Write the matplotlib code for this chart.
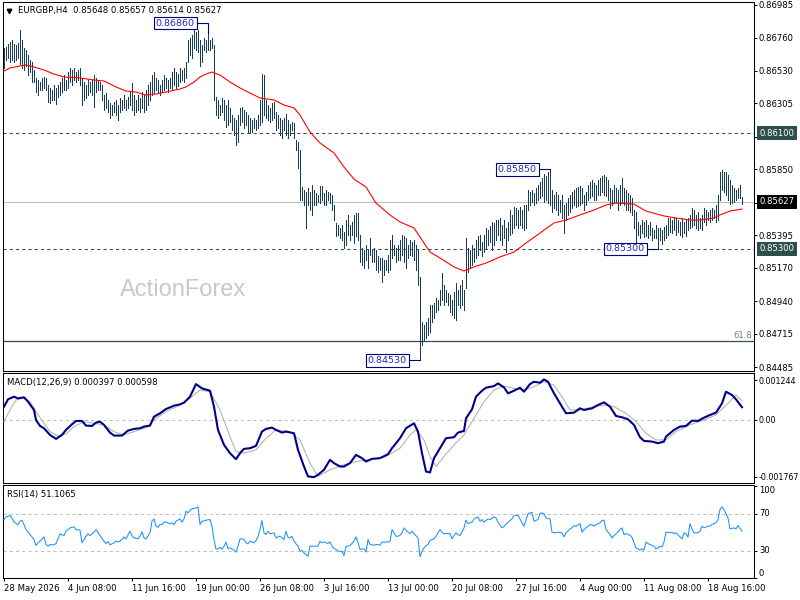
import numpy as np
import matplotlib
matplotlib.use("Agg")
import matplotlib.pyplot as plt
from matplotlib import transforms

plt.rcParams['font.family'] = ['DejaVu Sans']
plt.rcParams['axes.linewidth'] = 0.75

# ---------------- data ----------------
title_text = "EURGBP,H4  0.85648 0.85657 0.85614 0.85627"
macd_title = "MACD(12,26,9) 0.000397 0.000598"
rsi_title = "RSI(14) 51.1065"

# H4 bar highs / lows in price points (1e-5)
bar_high = [
    86688, 86695, 86716, 86729, 86743, 86716, 86709, 86723, 86812, 86743,
    86688, 86674, 86640, 86605, 86591, 86536, 86481, 86467, 86453, 86481,
    86488, 86481, 86433, 86412, 86398, 86433, 86412, 86433, 86453, 86481,
    86501, 86467, 86522, 86550, 86536, 86550, 86522, 86536, 86550, 86481,
    86453, 86433, 86467, 86453, 86467, 86501, 86481, 86467, 86453, 86433,
    86363, 86377, 86329, 86308, 86294, 86315, 86329, 86294, 86343, 86329,
    86363, 86329, 86350, 86384, 86446, 86363, 86329, 86363, 86343, 86384,
    86363, 86398, 86433, 86453, 86501, 86522, 86481, 86467, 86433, 86467,
    86501, 86481, 86467, 86481, 86522, 86550, 86522, 86508, 86550, 86536,
    86550, 86591, 86743, 86757, 86778, 86812, 86799, 86812, 86743, 86709,
    86757, 86743, 86792, 86743, 86757, 86709, 86350, 86329, 86294, 86343,
    86329, 86294, 86329, 86274, 86225, 86205, 86191, 86225, 86274, 86280,
    86260, 86246, 86225, 86205, 86191, 86205, 86191, 86225, 86329, 86508,
    86501, 86329, 86294, 86274, 86308, 86315, 86246, 86225, 86205, 86191,
    86205, 86232, 86191, 86163, 86177, 86170, 86053, 86039, 85984, 85728,
    85707, 85694, 85721, 85694, 85742, 85707, 85687, 85673, 85735, 85735,
    85687, 85707, 85694, 85687, 85673, 85604, 85480, 85466, 85445, 85466,
    85417, 85500, 85535, 85466, 85487, 85535, 85549, 85549, 85397, 85307,
    85293, 85328, 85293, 85376, 85293, 85307, 85293, 85252, 85238, 85238,
    85224, 85224, 85259, 85362, 85397, 85328, 85307, 85328, 85362, 85397,
    85390, 85376, 85328, 85362, 85348, 85362, 85328, 85293, 85107, 84796,
    84775, 84796, 84823, 84913, 84913, 84927, 84962, 84948, 85017, 85134,
    85052, 85017, 84996, 84982, 84948, 85003, 85065, 85017, 85052, 85086,
    85017, 85376, 85307, 85293, 85328, 85307, 85362, 85390, 85397, 85348,
    85397, 85445, 85431, 85459, 85487, 85480, 85500, 85500, 85514, 85466,
    85500, 85445, 85487, 85569, 85535, 85590, 85583, 85569, 85590, 85569,
    85604, 85604, 85707, 85694, 85707, 85687, 85721, 85742, 85763, 85790,
    85818, 85804, 85832, 85850, 85707, 85673, 85694, 85673, 85638, 85673,
    85604, 85617, 85652, 85673, 85694, 85707, 85721, 85728, 85735, 85721,
    85673, 85694, 85742, 85763, 85776, 85756, 85742, 85776, 85790, 85804,
    85811, 85797, 85776, 85721, 85707, 85742, 85721, 85707, 85742, 85790,
    85721, 85707, 85687, 85673, 85652, 85569, 85555, 85487, 85466, 85500,
    85487, 85500, 85466, 85487, 85445, 85431, 85466, 85445, 85445, 85431,
    85452, 85466, 85514, 85514, 85500, 85521, 85514, 85500, 85487, 85514,
    85487, 85500, 85514, 85535, 85583, 85569, 85535, 85555, 85514, 85535,
    85583, 85569, 85555, 85569, 85583, 85569, 85604, 85673, 85832, 85846,
    85832, 85832, 85811, 85776, 85742, 85721, 85707, 85721, 85742, 85657,
]
bar_low = [
    86550, 86605, 86619, 86591, 86605, 86591, 86605, 86619, 86578, 86550,
    86536, 86564, 86502, 86522, 86453, 86453, 86384, 86363, 86398, 86398,
    86412, 86398, 86315, 86308, 86329, 86329, 86301, 86350, 86363, 86384,
    86398, 86398, 86412, 86453, 86433, 86467, 86453, 86467, 86433, 86294,
    86329, 86343, 86363, 86384, 86363, 86280, 86384, 86398, 86398, 86329,
    86260, 86273, 86246, 86205, 86225, 86246, 86225, 86191, 86246, 86260,
    86273, 86260, 86273, 86294, 86260, 86225, 86246, 86260, 86246, 86273,
    86246, 86260, 86294, 86329, 86363, 86377, 86398, 86384, 86363, 86384,
    86398, 86412, 86384, 86412, 86398, 86433, 86412, 86426, 86453, 86467,
    86453, 86481, 86591, 86640, 86619, 86688, 86674, 86661, 86564, 86591,
    86674, 86661, 86674, 86674, 86688, 86329, 86225, 86205, 86225, 86246,
    86191, 86142, 86156, 86177, 86122, 86087, 86018, 86039, 86156, 86177,
    86136, 86156, 86108, 86101, 86108, 86136, 86122, 86136, 86156, 86177,
    86225, 86205, 86191, 86177, 86191, 86205, 86122, 86136, 86087, 86067,
    86122, 86087, 86067, 86087, 86122, 86067, 85984, 85860, 85638, 85638,
    85604, 85445, 85604, 85569, 85535, 85604, 85604, 85624, 85617, 85638,
    85604, 85604, 85638, 85617, 85569, 85500, 85390, 85397, 85376, 85362,
    85307, 85328, 85397, 85362, 85397, 85342, 85390, 85362, 85210, 85190,
    85169, 85224, 85169, 85259, 85210, 85210, 85155, 85141, 85155, 85072,
    85121, 85155, 85141, 85155, 85238, 85259, 85210, 85224, 85224, 85259,
    85210, 85169, 85238, 85259, 85252, 85224, 85155, 85052, 84530, 84637,
    84671, 84685, 84706, 84727, 84796, 84823, 84865, 84879, 84913, 84948,
    84913, 84934, 84913, 84865, 84844, 84823, 84810, 84913, 84892, 84913,
    84879, 85031, 85141, 85169, 85190, 85210, 85238, 85259, 85293, 85252,
    85279, 85307, 85328, 85348, 85293, 85328, 85362, 85397, 85362, 85328,
    85376, 85279, 85362, 85397, 85410, 85445, 85466, 85445, 85466, 85445,
    85431, 85445, 85569, 85604, 85624, 85604, 85617, 85638, 85652, 85666,
    85624, 85638, 85617, 85604, 85555, 85583, 85569, 85535, 85555, 85514,
    85410, 85500, 85535, 85555, 85583, 85604, 85590, 85597, 85604, 85617,
    85569, 85604, 85638, 85652, 85666, 85638, 85638, 85673, 85673, 85694,
    85673, 85666, 85638, 85583, 85604, 85624, 85624, 85569, 85604, 85624,
    85604, 85569, 85569, 85555, 85535, 85445, 85348, 85397, 85376, 85410,
    85383, 85390, 85376, 85397, 85362, 85376, 85376, 85300, 85362, 85334,
    85362, 85376, 85397, 85417, 85410, 85431, 85397, 85417, 85397, 85383,
    85410, 85390, 85431, 85445, 85452, 85466, 85445, 85431, 85445, 85431,
    85487, 85466, 85500, 85487, 85500, 85514, 85487, 85500, 85638, 85707,
    85694, 85673, 85638, 85610, 85617, 85624, 85638, 85652, 85652, 85614,
]

# moving average (bar index, price points)
ma_points = [
    (0, 86529), (3, 86550), (8, 86564), (11, 86571), (15, 86557), (20, 86536),
    (25, 86508), (30, 86488), (38, 86481), (45, 86467), (50, 86460), (56, 86419),
    (61, 86391), (66, 86384), (71, 86363), (76, 86370), (81, 86384), (88, 86405),
    (91, 86419), (95, 86453), (98, 86488), (101, 86508), (104, 86522), (108, 86501),
    (113, 86453), (118, 86412), (123, 86377), (128, 86343), (135, 86329), (140, 86294),
    (145, 86274), (148, 86225), (153, 86108), (158, 86032), (165, 85963), (170, 85866),
    (175, 85783), (181, 85728), (186, 85617), (193, 85535), (198, 85487), (205, 85445),
    (208, 85383), (213, 85279), (218, 85238), (225, 85176), (230, 85148), (235, 85176),
    (241, 85203), (248, 85245), (255, 85279), (261, 85341), (268, 85410), (275, 85480),
    (281, 85500), (288, 85535), (295, 85569), (301, 85604), (306, 85617), (315, 85610),
    (321, 85562), (330, 85528), (336, 85514), (343, 85500), (348, 85500), (355, 85514),
    (358, 85535), (363, 85562), (369, 85576),
]

# MACD main and signal (bar index, value * 1e-6)
macd_points = [
    (0, 414), (2, 642), (5, 724), (7, 673), (10, 704), (12, 569), (15, 310), (16, 0),
    (18, -186), (20, -259), (23, -466), (26, -590), (29, -466), (31, -310), (34, -135),
    (36, -31), (39, -31), (41, -176), (44, -186), (46, -83), (48, -52), (50, -155),
    (53, -393), (55, -486), (59, -486), (62, -331), (65, -279), (68, -259), (70, -207),
    (73, -176), (75, 103), (78, 207), (81, 341), (85, 445), (88, 486), (90, 538),
    (93, 724), (96, 1117), (99, 983), (103, 911), (105, 414), (107, -310), (110, -776),
    (113, -1035), (116, -1221), (118, -1035), (120, -900), (123, -880), (126, -807),
    (129, -362), (131, -279), (134, -238), (136, -310), (139, -393), (141, -362),
    (145, -414), (147, -931), (150, -1449), (152, -1759), (155, -1780), (157, -1707),
    (160, -1552), (163, -1242), (165, -1345), (168, -1449), (170, -1449), (173, -1345),
    (176, -1086), (179, -1190), (181, -1293), (184, -1211), (188, -1190), (192, -1066),
    (194, -880), (198, -569), (201, -259), (205, -103), (207, -362), (209, -1035),
    (211, -1604), (213, -1635), (215, -1190), (219, -776), (221, -569), (225, -538),
    (227, -393), (230, -341), (231, 52), (234, 331), (236, 724), (239, 911), (241, 1004),
    (245, 1055), (247, 1138), (250, 1014), (252, 828), (255, 911), (258, 1004),
    (260, 880), (263, 1117), (265, 1190), (268, 1159), (270, 1262), (272, 1190),
    (275, 828), (277, 621), (280, 310), (281, 207), (285, 228), (288, 362), (290, 310),
    (294, 362), (297, 466), (300, 548), (303, 414), (306, 124), (309, 83), (312, 21),
    (315, -155), (318, -538), (320, -652), (324, -673), (327, -724), (330, -673),
    (331, -517), (335, -310), (338, -207), (341, -186), (344, -21), (347, -31),
    (350, 72), (353, 155), (356, 228), (359, 517), (361, 880), (364, 776), (366, 642),
    (369, 397),
]
signal_points = [
    (0, -52), (3, 310), (6, 621), (10, 693), (13, 569), (16, 259), (20, -103),
    (23, -362), (27, -497), (31, -435), (35, -207), (40, -52), (45, -103), (50, -155),
    (55, -362), (60, -466), (65, -362), (71, -238), (76, 52), (81, 259), (88, 466),
    (93, 673), (98, 931), (103, 880), (108, 310), (113, -517), (116, -983),
    (120, -1035), (126, -931), (131, -569), (136, -310), (143, -362), (148, -621),
    (153, -1345), (157, -1759), (163, -1552), (170, -1397), (176, -1293), (183, -1242),
    (191, -1138), (198, -880), (203, -466), (206, -310), (210, -621), (213, -1138),
    (216, -1449), (220, -1138), (225, -776), (230, -466), (235, 52), (240, 569),
    (245, 931), (250, 1055), (255, 983), (260, 931), (265, 1035), (270, 1190),
    (275, 1086), (280, 621), (283, 310), (288, 310), (295, 414), (300, 466),
    (305, 414), (311, 207), (316, -52), (321, -414), (326, -621), (331, -621),
    (336, -362), (343, -155), (350, 0), (356, 155), (362, 517), (366, 776), (369, 598),
]

# RSI(14) (bar index, value)
rsi_points = [
    (0, 63.8), (1, 66.7), (3, 68.1), (4, 65.6), (5, 60.9), (7, 58.3), (8, 62.0), (9, 63.1),
    (10, 58.3), (11, 52.9), (13, 47.4), (15, 42.0), (16, 35.4), (17, 38.4), (18, 40.2),
    (19, 42.7), (20, 44.9), (21, 36.5), (22, 34.7), (23, 36.5), (25, 36.2), (26, 37.6),
    (27, 42.7), (28, 48.2), (30, 46.3), (31, 51.1), (33, 54.7), (35, 55.8), (36, 52.9),
    (38, 52.2), (39, 38.4), (40, 42.0), (41, 45.6), (42, 48.2), (43, 46.3), (45, 50.0),
    (46, 52.9), (47, 50.0), (48, 46.3), (50, 40.2), (51, 37.6), (52, 39.8), (53, 36.2),
    (55, 38.4), (56, 40.2), (57, 39.4), (58, 40.2), (59, 42.0), (60, 44.9), (61, 42.7),
    (63, 51.1), (64, 46.3), (65, 43.8), (67, 42.7), (68, 45.6), (69, 50.3), (70, 43.8),
    (71, 42.7), (73, 49.3), (74, 62.0), (75, 64.5), (76, 56.5), (77, 55.4), (78, 58.3),
    (79, 58.3), (80, 60.9), (81, 61.2), (83, 59.1), (84, 60.2), (85, 58.3), (86, 62.0),
    (88, 64.5), (89, 60.9), (90, 64.5), (91, 72.9), (92, 71.1), (93, 74.0), (94, 75.4),
    (96, 76.5), (97, 77.6), (98, 58.3), (99, 62.0), (100, 62.0), (101, 63.1), (103, 63.8),
    (104, 56.5), (105, 42.0), (106, 31.5), (107, 31.8), (108, 33.6), (109, 31.1),
    (110, 34.7), (111, 39.1), (112, 32.2), (113, 32.9), (114, 31.8), (115, 30.4),
    (116, 28.2), (117, 34.7), (118, 42.7), (119, 42.7), (120, 42.0), (121, 38.4),
    (122, 37.3), (123, 40.2), (125, 38.4), (126, 40.9), (127, 44.9), (128, 52.9),
    (129, 62.7), (130, 49.3), (131, 47.4), (132, 51.1), (133, 48.2), (135, 49.3),
    (136, 43.8), (137, 44.9), (138, 45.6), (139, 43.8), (140, 42.0), (141, 51.1),
    (142, 44.5), (143, 43.8), (144, 45.6), (145, 40.2), (147, 34.7), (148, 29.3),
    (149, 30.0), (150, 27.5), (152, 23.8), (153, 34.7), (154, 34.7), (156, 34.7),
    (157, 34.7), (158, 40.2), (159, 38.4), (160, 39.4), (162, 37.6), (163, 39.4),
    (164, 34.7), (165, 32.2), (166, 31.1), (168, 28.5), (169, 29.3), (170, 24.5),
    (171, 34.7), (172, 34.7), (173, 35.4), (175, 40.2), (176, 44.9), (177, 38.4),
    (178, 31.1), (179, 31.8), (180, 31.8), (181, 28.2), (182, 42.0), (183, 36.5),
    (185, 35.8), (186, 36.5), (187, 36.5), (188, 35.8), (189, 39.1), (190, 39.1),
    (192, 39.4), (193, 39.8), (194, 52.9), (195, 49.3), (196, 45.6), (197, 45.6),
    (198, 46.5), (199, 49.3), (200, 54.7), (202, 50.0), (203, 48.5), (204, 51.1),
    (205, 48.5), (207, 43.8), (208, 23.1), (209, 29.3), (210, 32.9), (211, 35.4),
    (212, 36.5), (213, 40.9), (215, 42.7), (216, 45.6), (218, 52.9), (219, 50.0),
    (220, 48.2), (221, 48.5), (223, 48.5), (224, 42.7), (225, 46.3), (226, 49.3),
    (227, 47.4), (228, 46.3), (230, 54.7), (231, 63.1), (232, 59.4), (234, 60.9),
    (235, 64.5), (237, 66.7), (238, 62.0), (239, 63.8), (240, 60.9), (242, 64.5),
    (243, 63.8), (245, 66.7), (246, 65.6), (247, 60.9), (249, 54.7), (250, 56.5),
    (252, 60.9), (254, 64.5), (255, 68.1), (257, 68.1), (258, 64.5), (259, 60.2),
    (260, 56.5), (262, 70.3), (263, 71.1), (264, 71.8), (265, 62.0), (267, 63.8),
    (268, 70.3), (269, 71.1), (270, 70.3), (271, 65.6), (273, 64.5), (274, 50.0),
    (275, 49.3), (277, 50.0), (279, 49.3), (280, 44.9), (281, 49.3), (283, 53.6),
    (284, 54.7), (285, 57.2), (286, 56.5), (288, 59.4), (289, 50.0), (290, 52.9),
    (291, 54.7), (293, 58.3), (294, 58.3), (295, 56.5), (296, 58.3), (298, 60.2),
    (299, 62.7), (300, 63.1), (301, 52.9), (303, 47.4), (304, 43.8), (305, 46.3),
    (306, 48.2), (308, 52.9), (309, 54.7), (310, 47.4), (311, 48.5), (313, 46.7),
    (314, 44.5), (315, 38.4), (316, 32.9), (318, 30.4), (319, 31.8), (320, 30.4),
    (321, 39.1), (322, 37.6), (323, 36.5), (325, 34.7), (326, 31.8), (327, 32.9),
    (328, 34.7), (329, 34.0), (330, 39.1), (331, 50.0), (333, 49.3), (334, 50.0),
    (335, 48.5), (336, 49.3), (338, 44.9), (339, 42.7), (340, 49.3), (341, 48.5),
    (342, 44.5), (343, 59.4), (344, 53.6), (345, 49.3), (347, 49.3), (348, 51.1),
    (349, 56.5), (350, 54.7), (352, 56.5), (353, 56.5), (354, 58.3), (355, 59.4),
    (356, 60.2), (357, 63.8), (358, 74.7), (359, 77.6), (360, 74.7), (361, 70.0),
    (362, 65.6), (363, 53.6), (365, 54.7), (366, 53.6), (367, 57.2), (369, 51.1),
]

resistance_level = 0.86100
support_level = 0.85300
last_close = 0.85627
fib_level = 0.84663
fib_label = "61.8"
swing_labels = [(102, 0.86860, "0.86860", "high"), (273, 0.85850, "0.85850", "high"),
                (327, 0.85300, "0.85300", "low"), (208, 0.84530, "0.84530", "low")]

price_ticks = [0.86985, 0.86760, 0.86530, 0.86305, 0.86075, 0.85850, 0.85620,
               0.85395, 0.85170, 0.84940, 0.84715, 0.84485]
price_tick_labels = ["0.86985", "0.86760", "0.86530", "0.86305", "", "0.85850", "",
                     "0.85395", "0.85170", "0.84940", "0.84715", "0.84485"]
macd_ticks = [0.001244, 0.0, -0.001767]
macd_tick_labels = ["0.001244", "0.00", "-0.001767"]
rsi_levels = [70, 30]
rsi_ticks = [100, 70, 30, 0]
time_tick_bars = [0, 32, 64, 96, 128, 160, 192, 224, 256, 288, 320, 352]
time_tick_labels = ["28 May 2026", "4 Jun 08:00", "11 Jun 16:00", "19 Jun 00:00",
                    "26 Jun 08:00", "3 Jul 16:00", "13 Jul 00:00", "20 Jul 08:00",
                    "27 Jul 16:00", "4 Aug 00:00", "11 Aug 08:00", "18 Aug 16:00"]

assert len(bar_high) == len(bar_low)
high = np.array(bar_high) / 1e5
low = np.array(bar_low) / 1e5
bars = np.arange(len(high))
ma_x, ma_y = zip(*ma_points)
ma_y = np.array(ma_y) / 1e5
mc_x, mc_y = zip(*macd_points)
mc_y = np.array(mc_y) / 1e6
sg_x, sg_y = zip(*signal_points)
sg_y = np.array(sg_y) / 1e6
rs_x, rs_y = zip(*rsi_points)

# ---------------- layout / style ----------------
W, H = 800, 600
FS = 6.1
BAR_C = '#163E5C'
SLATE = '#2F4F4F'
XLIM = (-0.5, 375)


def rect(x0, y0, x1, y1):
    return [x0 / W, 1 - y1 / H, (x1 - x0) / W, (y1 - y0) / H]


fig = plt.figure(figsize=(8, 6), dpi=100)
fig.patch.set_facecolor('white')

ax = fig.add_axes(rect(3, 2, 754, 371))
ax2 = fig.add_axes(rect(3, 373, 754, 483))
ax3 = fig.add_axes(rect(3, 485, 754, 578))

for a in (ax, ax2, ax3):
    a.set_xlim(*XLIM)
    a.set_facecolor('white')
    for s in a.spines.values():
        s.set_color('black')
        s.set_linewidth(0.75)
    a.yaxis.tick_right()
    a.tick_params(axis='y', direction='out', length=2.2, width=0.7, pad=1.3,
                  labelsize=FS, colors='black')
    a.tick_params(axis='x', bottom=False, labelbottom=False)

# ----- main price panel -----
ax.set_ylim(0.844574, 0.870057)
ax.vlines(bars, low, high, color=BAR_C, lw=0.55, antialiased=False, zorder=3)
ax.plot(ma_x, ma_y, color='#FF0000', lw=0.8, zorder=4)
ax.axhline(resistance_level, color=SLATE, lw=0.75, ls=(0, (3, 3)), zorder=2)
ax.axhline(support_level, color=SLATE, lw=0.75, ls=(0, (3, 3)), zorder=2)
ax.axhline(last_close, color='#BDBDBD', lw=0.75, zorder=1)
ax.axhline(fib_level, color=SLATE, lw=0.9, zorder=2)
ax.text(374, fib_level + 0.00006, fib_label, ha='right', va='bottom', fontsize=FS,
        color='#708090')
ax.set_yticks(price_ticks)
ax.set_yticklabels(price_tick_labels)

ax.text(0.2397, 0.2195, "ActionForex", transform=ax.transAxes, ha='center',
        va='center', fontsize=17, color='#C8C8C8', family='Liberation Sans', zorder=0)

for bi, price, lab, kind in swing_labels:
    ax.text(bi - 6.6, price, lab, ha='right', va='center', fontsize=FS + 0.7,
            color='#2828B4', zorder=6,
            bbox=dict(boxstyle='square,pad=0.18', fc='white', ec='#000080', lw=0.8))
    end = high[bi] if kind == 'high' else low[bi]
    ax.plot([bi - 5, bi, bi], [price, price, end], color='#000080', lw=0.8, zorder=5)

blend = transforms.blended_transform_factory(ax.transAxes, ax.transData)
for price, fc in ((resistance_level, SLATE), (last_close, 'black'), (support_level, SLATE)):
    ax.text(1.0075, price, f"{price:.5f}", transform=blend, ha='left', va='center',
            fontsize=FS, color='white', clip_on=False, zorder=10,
            bbox=dict(boxstyle='square,pad=0.3', fc=fc, ec='none'))

fig.text(18 / W, 1 - 10.5 / H, title_text, ha='left', va='center', fontsize=FS,
         color='black')
ax.plot([0.0075], [1 - 8.5 / 369], marker='v', ms=3.2, color='black',
        transform=ax.transAxes, clip_on=False)

# ----- MACD panel -----
ax2.set_ylim(-0.001963, 0.001462)
ax2.axhline(0, color='#C0C0C0', lw=0.75, ls=(0, (3, 3)))
ax2.plot(sg_x, sg_y, color='#B0B0B0', lw=0.75, zorder=3)
ax2.plot(mc_x, mc_y, color='#000088', lw=1.5, zorder=4)
ax2.set_yticks(macd_ticks)
ax2.set_yticklabels(macd_tick_labels)
ax2.tick_params(axis='y', pad=0.9, labelsize=5.7)
ax2.text(4.2 / 751, 1 - 9 / 110, macd_title, transform=ax2.transAxes, ha='left',
         va='center', fontsize=FS, color='black')

# ----- RSI panel -----
ax3.set_ylim(0, 101.5)
for lv in rsi_levels:
    ax3.axhline(lv, color='#C0C0C0', lw=0.75, ls=(0, (3, 3)))
ax3.plot(rs_x, rs_y, color='#1E90FF', lw=0.75, zorder=3)
ax3.set_yticks(rsi_ticks)
ax3.set_yticklabels([])
blend3 = transforms.blended_transform_factory(ax3.transAxes, ax3.transData)
for v in rsi_ticks:
    va = 'top' if v == 100 else ('bottom' if v == 0 else 'center')
    ax3.text(1.0065, v, str(v), transform=blend3, ha='left', va=va, fontsize=FS,
             color='black', clip_on=False)
ax3.text(4.2 / 751, 1 - 10 / 93, rsi_title, transform=ax3.transAxes, ha='left',
         va='center', fontsize=FS, color='black')
ax3.tick_params(axis='x', bottom=True, labelbottom=True, direction='out', length=2.5,
                width=0.7, pad=1.5, labelsize=FS)
ax3.set_xticks(time_tick_bars)
ax3.set_xticklabels(time_tick_labels, ha='left')

fig.savefig('out.png', dpi=100, facecolor='white')
